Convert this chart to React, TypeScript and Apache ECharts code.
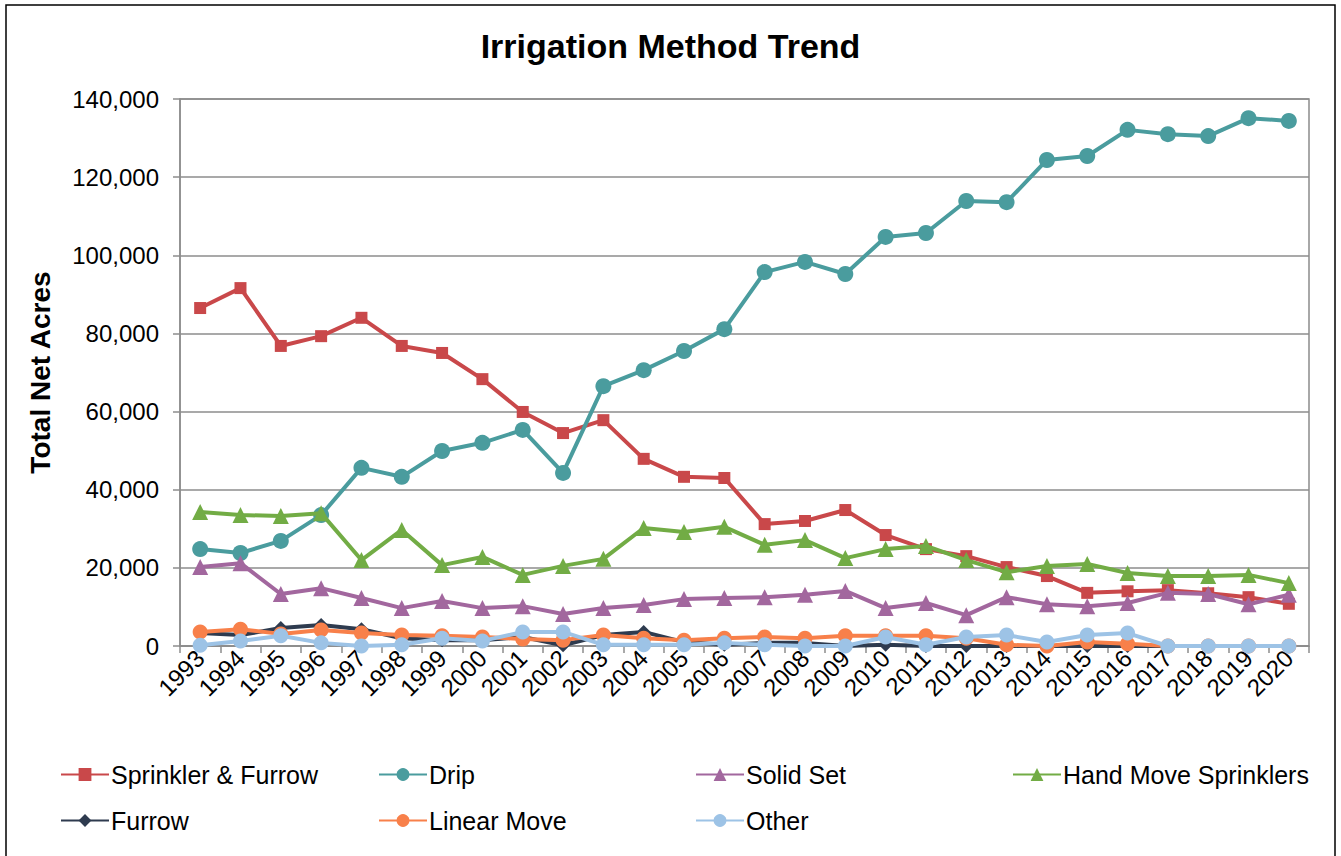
import React, { useEffect, useRef } from "react";
import * as echarts from "echarts";

const years = ["1993","1994","1995","1996","1997","1998","1999","2000","2001","2002","2003","2004","2005","2006","2007","2008","2009","2010","2011","2012","2013","2014","2015","2016","2017","2018","2019","2020"];

const sprinklerFurrow = [86500,91600,76800,79300,84000,76800,75000,68300,59900,54500,57800,47900,43300,43000,31200,32000,34800,28400,24800,23000,20200,17900,13600,14000,14300,13500,12500,10800];
const drip = [24800,23800,26900,33500,45600,43300,49900,52000,55300,44300,66500,70600,75500,81100,95700,98300,95200,104700,105700,113900,113600,124400,125400,132100,131000,130500,135100,134400];
const solidSet = [20200,21200,13300,14800,12300,9700,11500,9700,10200,8200,9700,10500,12000,12300,12500,13100,14100,9700,11000,7900,12500,10700,10200,11000,13600,13300,10700,13100];
const handMove = [34300,33500,33300,34000,22000,29700,20700,22800,18200,20500,22300,30200,29200,30500,25900,27100,22500,24800,25600,22000,18900,20500,21000,18700,17900,17900,18200,16100];
const furrow = [3300,2800,4600,5400,4300,2000,1500,1500,2300,200,2800,3600,1000,300,800,800,0,300,0,0,0,0,0,0,0,0,0,0];
const linearMove = [3600,4300,3100,4100,3300,2800,2600,2300,1800,1500,2800,2000,1500,2000,2300,2000,2600,2600,2600,2000,300,0,1000,600,0,0,0,0];
const other = [200,1300,2600,800,0,300,2000,1300,3600,3600,300,300,300,800,300,0,0,2300,300,2300,2800,1000,2800,3300,0,0,0,0];

const seriesNames = ["Sprinkler & Furrow","Drip","Solid Set","Hand Move Sprinklers","Furrow","Linear Move","Other"];
const seriesData = [sprinklerFurrow, drip, solidSet, handMove, furrow, linearMove, other];
const colors = ["#C9484A","#4A9C9E","#A2679E","#72AC45","#2E3B4F","#F8804A","#9DC3E6"];
const symbols = ["rect","circle","triangle","triangle","diamond","circle","circle"];
const symbolSizes = [12,16,16,16,14,15,15];

export default function App() {
  const ref = useRef<HTMLDivElement>(null);
  useEffect(() => {
    if (!ref.current) return;
    const chart = echarts.init(ref.current, null, { renderer: "svg" });
    const font = "'Liberation Sans', Arial, sans-serif";
    const legendLefts = [60, 378, 695, 1012, 60, 378, 695];
    const legendTops = [757, 757, 757, 757, 803, 803, 803];
    chart.setOption({
      animation: false,
      textStyle: { fontFamily: font },
      title: {
        text: "Irrigation Method Trend",
        left: "center",
        top: 24,
        textStyle: { fontSize: 34, fontWeight: "bold", color: "#000", fontFamily: font },
      },
      legend: seriesNames.map((n, i) => ({
        data: [n],
        left: legendLefts[i] - 5,
        top: legendTops[i],
        itemWidth: 48,
        itemHeight: 16,
        itemGap: 4,
        textStyle: { fontSize: 25, color: "#000", fontFamily: font, padding: [0, 0, 0, -3] },
      })),
      grid: { left: 180, right: 32, top: 99, bottom: 210, show: true, borderColor: "#8c8c8c", borderWidth: 1.5 },
      xAxis: {
        type: "category",
        data: years,
        boundaryGap: true,
        axisLine: { lineStyle: { color: "#8c8c8c", width: 1.5 } },
        axisTick: { show: true, length: 7, interval: 0, lineStyle: { color: "#8c8c8c", width: 1.5 } },
        axisLabel: { rotate: 45, interval: 0, fontSize: 24, color: "#000", margin: 8, fontFamily: font },
      },
      yAxis: {
        type: "value",
        min: 0,
        max: 140000,
        interval: 20000,
        name: "Total Net Acres",
        nameLocation: "middle",
        nameGap: 126,
        nameTextStyle: { fontSize: 28, fontWeight: "bold", color: "#000", fontFamily: font },
        axisLine: { show: true, lineStyle: { color: "#8c8c8c", width: 1.5 } },
        axisTick: { show: true, length: 7, lineStyle: { color: "#8c8c8c", width: 1.5 } },
        splitLine: { lineStyle: { color: "#8c8c8c", width: 1.5 } },
        axisLabel: {
          fontSize: 24,
          color: "#000",
          margin: 21,
          fontFamily: font,
          formatter: (v: number) => v.toLocaleString("en-US"),
        },
      },
      graphic: [
        {
          type: "rect",
          shape: { x: 6, y: 5, width: 1329, height: 870 },
          style: { fill: "none", stroke: "#000", lineWidth: 1.5 },
          silent: true,
        },
      ],
      series: seriesNames.map((n, i) => ({
        name: n,
        type: "line",
        data: seriesData[i],
        symbol: symbols[i],
        symbolSize: symbolSizes[i],
        showAllSymbol: true,
        lineStyle: { color: colors[i], width: 4 },
        itemStyle: { color: colors[i], borderWidth: 0 },
        z: 2 + i,
      })),
    });
    return () => chart.dispose();
  }, []);
  return <div ref={ref} style={{ width: 1341, height: 856, position: "absolute", left: 0, top: 0 }} />;
}
